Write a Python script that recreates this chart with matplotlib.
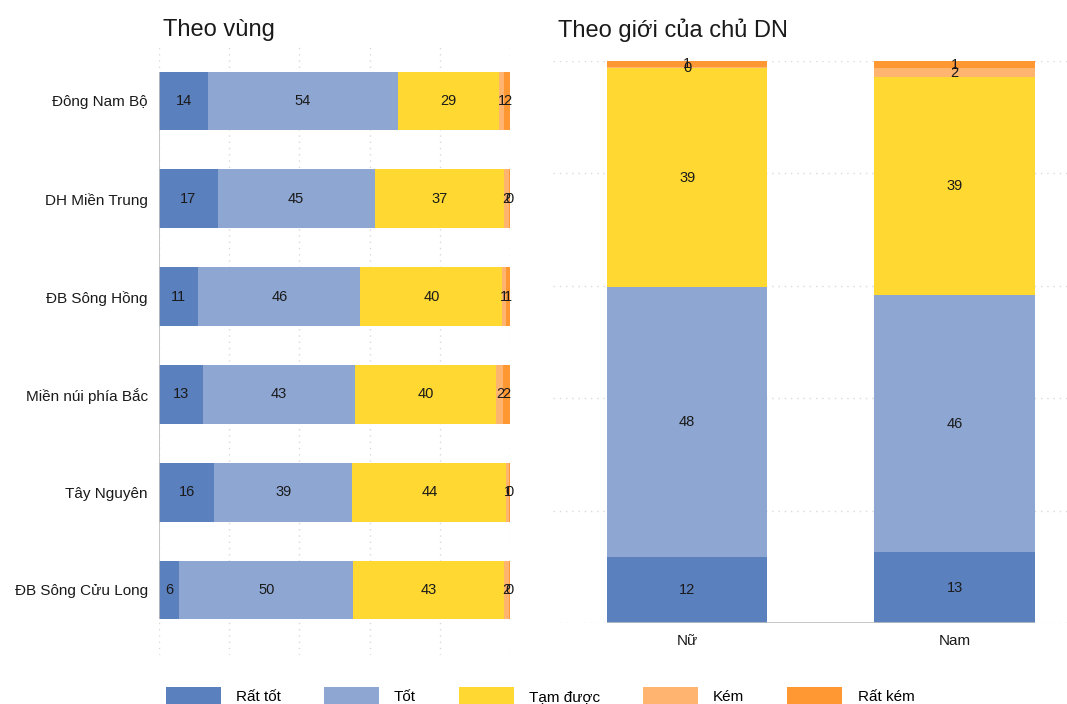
import matplotlib
matplotlib.use("Agg")
import matplotlib.pyplot as plt
from matplotlib import font_manager
from matplotlib.patches import Patch

# --- data -------------------------------------------------------------
levels = ["Rất tốt", "Tốt", "Tạm được", "Kém", "Rất kém"]
colors = ["#5B80BE", "#8EA7D2", "#FFD932", "#FFB56F", "#FF9833"]

regions = ["Đông Nam Bộ", "DH Miền Trung", "ĐB Sông Hồng",
           "Miền núi phía Bắc", "Tây Nguyên", "ĐB Sông Cửu Long"]
region_rat_tot = [14.0, 16.8, 11.2, 12.6, 15.8, 5.8]
region_tot = [54.0, 44.6, 46.2, 43.3, 39.2, 49.6]
region_tam_duoc = [29.0, 36.8, 40.4, 40.2, 44.0, 42.8]
region_kem = [1.2, 1.5, 1.0, 2.0, 0.8, 1.6]
region_rat_kem = [1.8, 0.3, 1.2, 1.9, 0.2, 0.2]

genders = ["Nữ", "Nam"]
gender_rat_tot = [11.8, 12.6]
gender_tot = [47.9, 45.7]
gender_tam_duoc = [39.0, 38.8]
gender_kem = [0.2, 1.6]
gender_rat_kem = [1.1, 1.3]

# --- fonts ------------------------------------------------------------
plt.rcParams["font.family"] = ["Liberation Sans", "DejaVu Sans"]
installed = {f.name for f in font_manager.fontManager.ttflist}
legend_family = (["Liberation Sans Narrow", "Liberation Sans"]
                 if "Liberation Sans Narrow" in installed
                 else ["Liberation Sans", "DejaVu Sans"])

W, H = 1067, 704
fig = plt.figure(figsize=(W / 100, H / 100), dpi=100)


def px_axes(left, top, right, bottom):
    return fig.add_axes([left / W, 1 - bottom / H, (right - left) / W,
                         (bottom - top) / H])


grid_kw = dict(color="#d9d9d9", linewidth=1.0, linestyle=(0, (1, 3.5)))
label_kw = dict(ha="center", va="center", fontsize=10.5, color="#1a1a1a")

# --- left panel: by region --------------------------------------------
ax1 = px_axes(159, 43, 510, 655)
region_series = [region_rat_tot, region_tot, region_tam_duoc,
                 region_kem, region_rat_kem]
ypos = list(range(len(regions)))
left = [0.0] * len(regions)
for vals, col in zip(region_series, colors):
    ax1.barh(ypos, vals, left=left, height=0.6, color=col, linewidth=0)
    for y, l, v in zip(ypos, left, vals):
        ax1.text(l + v / 2, y, f"{v:.0f}", **label_kw)
    left = [a + b for a, b in zip(left, vals)]

ax1.set_xlim(0, 100)
ax1.set_ylim(5.665, -0.593)
ax1.set_xticks(range(0, 101, 20))
ax1.set_yticks(ypos)
ax1.set_yticklabels(regions, fontsize=11, color="#1a1a1a")
ax1.tick_params(axis="y", length=0, pad=8)
ax1.tick_params(axis="x", length=0, labelbottom=False)
ax1.xaxis.grid(True, **grid_kw)
ax1.set_axisbelow(True)
for s in ax1.spines.values():
    s.set_visible(False)
ax1.vlines(0, -0.3, 5.3, color="#bfbfbf", linewidth=1.2, zorder=3)
ax1.set_title("Theo vùng", loc="left", fontsize=17, color="#1a1a1a",
              pad=5, x=0.012)

# --- right panel: by owner gender --------------------------------------
ax2 = px_axes(553, 61, 1067, 623)
gender_series = [gender_rat_tot, gender_tot, gender_tam_duoc,
                 gender_kem, gender_rat_kem]
xpos = list(range(len(genders)))
bottom = [0.0] * len(genders)
for vals, col in zip(gender_series, colors):
    ax2.bar(xpos, vals, bottom=bottom, width=0.6, color=col, linewidth=0)
    for x, b, v in zip(xpos, bottom, vals):
        ax2.text(x, b + v / 2, f"{v:.0f}", **label_kw)
    bottom = [a + b for a, b in zip(bottom, vals)]

ax2.set_xlim(-0.502, 1.42)
ax2.set_ylim(0, 100)
ax2.set_yticks(range(0, 101, 20))
ax2.set_xticks(xpos)
ax2.set_xticklabels(genders, fontsize=11, color="#1a1a1a")
ax2.tick_params(axis="x", length=0, pad=8)
ax2.tick_params(axis="y", length=0, labelleft=False)
ax2.yaxis.grid(True, **grid_kw)
ax2.set_axisbelow(True)
for s in ax2.spines.values():
    s.set_visible(False)
ax2.hlines(0, -0.3, 1.3, color="#bfbfbf", linewidth=1.2, zorder=3)
ax2.set_title("Theo giới của chủ DN", loc="left", fontsize=17,
              color="#1a1a1a", pad=17, x=0.01)

# --- shared legend ------------------------------------------------------
handles = [Patch(facecolor=c, edgecolor="none", label=l)
           for c, l in zip(colors, levels)]
fig.legend(handles=handles, loc="center", ncol=5,
           bbox_to_anchor=(540 / W, 1 - 696 / H), frameon=False,
           prop={"family": legend_family, "size": 11},
           handlelength=3.6, handleheight=1.5, handletextpad=1.0,
           columnspacing=2.8)

fig.savefig("out.png", dpi=100)
